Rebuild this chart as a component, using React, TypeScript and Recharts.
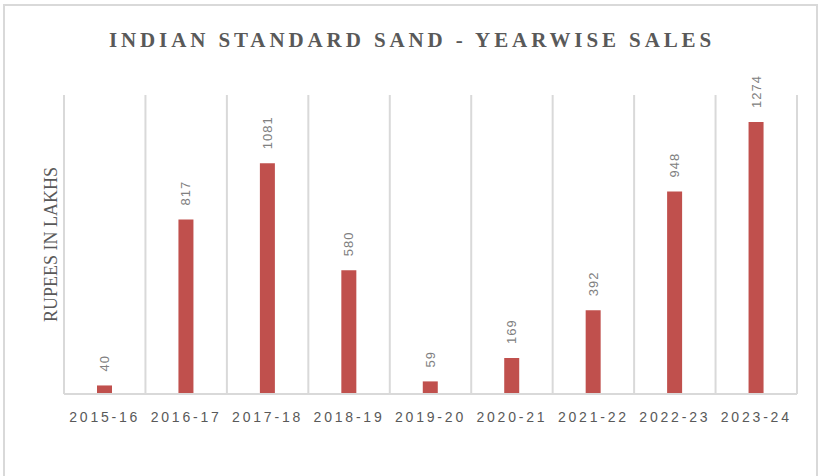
import React from "react";
import { BarChart, Bar, XAxis, YAxis, CartesianGrid, LabelList, Customized } from "recharts";

const categories = ["2015-16", "2016-17", "2017-18", "2018-19", "2019-20", "2020-21", "2021-22", "2022-23", "2023-24"];
const sales = [40, 817, 1081, 580, 59, 169, 392, 948, 1274];
const title = "INDIAN STANDARD SAND - YEARWISE SALES";
const yLabel = "RUPEES IN LAKHS";

const data = categories.map((c, i) => ({ year: c, sales: sales[i] }));

const GRID = "#d9d9d9";
const TEXT = "#595959";

const XTick = (props: any) => {
  const { x, y, payload } = props;
  return (
    <text
      x={x}
      y={y}
      dy={27.5}
      textAnchor="middle"
      fill={TEXT}
      fontSize={14}
      fontFamily="'Liberation Sans', Arial, sans-serif"
      letterSpacing={2.8}
    >
      {payload.value}
    </text>
  );
};

const BarLabel = (props: any) => {
  const { x, y, width, value } = props;
  const cx = x + width / 2;
  const ty = y - 14;
  return (
    <text
      x={cx}
      y={ty}
      transform={`rotate(-90 ${cx} ${ty})`}
      textAnchor="start"
      dominantBaseline="central"
      fill="#808080"
      fontSize={13}
      fontFamily="'Liberation Sans', Arial, sans-serif"
      letterSpacing={1}
    >
      {value}
    </text>
  );
};

const Title = () => (
  <text
    x={412}
    y={47}
    textAnchor="middle"
    fill={TEXT}
    fontSize={21}
    fontWeight="bold"
    fontFamily="'Liberation Serif', 'Times New Roman', serif"
    letterSpacing={3.9}
  >
    {title}
  </text>
);

export default function App() {
  return (
    <div style={{ position: "absolute", left: 0, top: 0, width: 820, height: 476, overflow: "hidden", background: "#fff" }}>
      <div
        style={{
          position: "absolute",
          left: 3,
          top: 4,
          width: 815,
          height: 500,
          border: `2px solid ${GRID}`,
          boxSizing: "border-box",
        }}
      />
      <div style={{ position: "absolute", left: 0, top: 0 }}>
        <BarChart width={820} height={476} data={data} margin={{ top: 95, right: 23, bottom: 52, left: 0 }}>
          <CartesianGrid
            horizontal={false}
            stroke={GRID}
            strokeWidth={2}
            verticalCoordinatesGenerator={({ offset }: any) =>
              Array.from({ length: categories.length + 1 }, (_, i) => offset.left + (i * offset.width) / categories.length)
            }
          />
          <XAxis
            dataKey="year"
            axisLine={{ stroke: GRID, strokeWidth: 2 }}
            tickLine={false}
            tickSize={0}
            tickMargin={0}
            height={30}
            interval={0}
            tick={<XTick />}
          />
          <YAxis
            domain={[0, 1400]}
            width={64}
            axisLine={false}
            tickLine={false}
            tick={false}
            label={{
              value: yLabel,
              angle: -90,
              position: "center",
              dx: 19,
              fill: TEXT,
              fontSize: 18,
              fontFamily: "'Liberation Serif', 'Times New Roman', serif",
            }}
          />
          <Bar dataKey="sales" fill="#C0504D" barSize={15} isAnimationActive={false}>
            <LabelList dataKey="sales" content={<BarLabel />} />
          </Bar>
          <Customized component={<Title />} />
        </BarChart>
      </div>
    </div>
  );
}
